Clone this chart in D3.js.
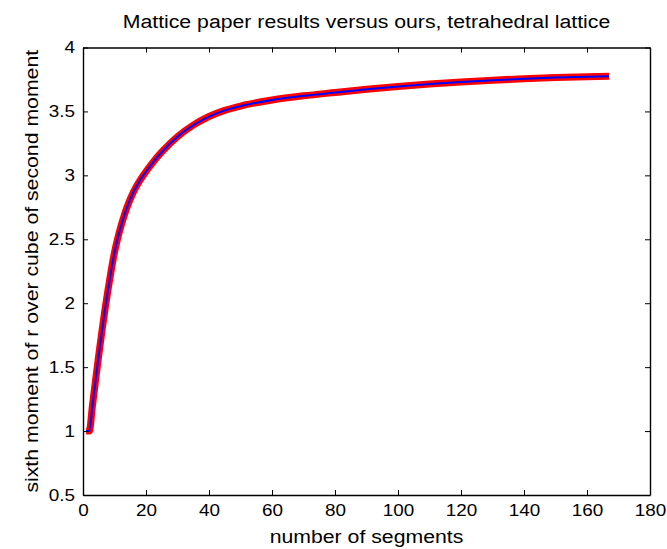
<!DOCTYPE html>
<html><head><meta charset="utf-8">
<script src="https://cdn.jsdelivr.net/npm/d3@7"></script>
<style>body{margin:0;background:#fff}svg{display:block}text{font-family:"Liberation Sans",Arial,sans-serif;fill:#000}</style>
</head><body>
<svg id="c" width="667" height="549"></svg>
<script>
const segments = [1,2,3,4,5,6,7,8,9,10,11,12,13,14,16,18,20,22,25,30,35,40,45,50,60,70,80,90,100,110,120,130,140,150,160,167];
const ratio    = [1,1,1.2,1.4,1.595,1.78,1.955,2.115,2.265,2.398,2.506,2.599,2.68,2.752,2.87,2.958,3.03,3.096,3.183,3.303,3.393,3.46,3.508,3.542,3.589,3.622,3.648,3.673,3.695,3.714,3.73,3.744,3.756,3.765,3.772,3.776];
const xTicks = [0,20,40,60,80,100,120,140,160,180];
const yTicks = [0.5,1,1.5,2,2.5,3,3.5,4];
const title = "Mattice paper results versus ours, tetrahedral lattice";
const xLabel = "number of segments";
const yLabel = "sixth moment of r over cube of second moment";

const svg = d3.select("#c");
const L=83, R=650, T=47.5, B=495;
const x = d3.scaleLinear().domain([0,180]).range([L,R]);
const y = d3.scaleLinear().domain([0.5,4]).range([B,T]);
const data = segments.map((s,i)=>[s,ratio[i]]);
const line = d3.line().x(d=>x(d[0])).y(d=>y(d[1])).curve(d3.curveMonotoneX);

svg.append("path").datum(data).attr("d",line).attr("fill","none").attr("stroke","#ff0000").attr("stroke-width",7);
svg.append("path").datum(data).attr("d",line).attr("fill","none").attr("stroke","#0000ff").attr("stroke-width",2);

const fmt = d=>String(d);
const gb = svg.append("g").attr("transform",`translate(0,${B})`).call(d3.axisBottom(x).tickValues(xTicks).tickFormat(fmt).tickSizeInner(-5).tickSizeOuter(0).tickPadding(10));
const gt = svg.append("g").attr("transform",`translate(0,${T})`).call(d3.axisTop(x).tickValues(xTicks).tickFormat("").tickSizeInner(-5).tickSizeOuter(0));
const gl = svg.append("g").attr("transform",`translate(${L},0)`).call(d3.axisLeft(y).tickValues(yTicks).tickFormat(fmt).tickSizeInner(-5).tickSizeOuter(0).tickPadding(8));
const gr = svg.append("g").attr("transform",`translate(${R},0)`).call(d3.axisRight(y).tickValues(yTicks).tickFormat("").tickSizeInner(-5).tickSizeOuter(0));
[gb,gt,gl,gr].forEach(g=>{
  g.select(".domain").attr("stroke","#000").attr("stroke-width",1.4);
  g.selectAll(".tick line").attr("stroke","#000").attr("stroke-width",1);
  g.selectAll("text").style("font-size","16px").style("font-family","'Liberation Sans',Arial,sans-serif").attr("fill","#000");
});
gb.selectAll("text").attr("dy","0.71em");

svg.append("text").attr("x",(L+R)/2).attr("y",28).attr("text-anchor","middle").style("font-size","18px").text(title);
svg.append("text").attr("x",(L+R)/2).attr("y",543).attr("text-anchor","middle").style("font-size","18px").text(xLabel);
svg.append("text").attr("transform",`translate(38,${(T+B)/2}) rotate(-90)`).attr("text-anchor","middle").style("font-size","18px").text(yLabel);

// widen glyphs to match the reference's wider face
svg.selectAll("text").each(function(){
  const t = this.textContent; if(!t) return;
  const len = this.getComputedTextLength();
  d3.select(this).attr("textLength", len*1.18).attr("lengthAdjust","spacingAndGlyphs");
});
</script>
</body></html>
